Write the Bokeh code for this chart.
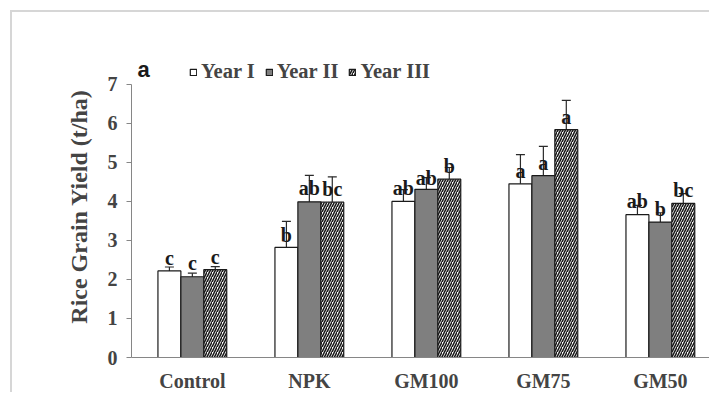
from bokeh.plotting import figure
from bokeh.models import (ColumnDataSource, Whisker, TeeHead, Legend, LegendItem,
                          FixedTicker, Label, Range1d)
from bokeh.core.properties import value
from bokeh.embed import file_html
from bokeh.resources import INLINE

# ---- data ----
categories = ["Control", "NPK", "GM100", "GM75", "GM50"]
series = ["Year I", "Year II", "Year III"]
year1 = [2.22, 2.82, 4.00, 4.45, 3.66]
year2 = [2.07, 3.99, 4.31, 4.66, 3.47]
year3 = [2.25, 3.98, 4.57, 5.84, 3.95]
err1 = [0.10, 0.67, 0.30, 0.75, 0.24]
err2 = [0.09, 0.68, 0.30, 0.75, 0.24]
err3 = [0.08, 0.65, 0.30, 0.75, 0.25]
letters1 = ["c", "b", "ab", "a", "ab"]
letters2 = ["c", "ab", "ab", "a", "b"]
letters3 = ["c", "bc", "b", "a", "bc"]
letter_y1 = [2.55, 3.14, 4.34, 4.79, 4.00]
letter_y2 = [2.43, 4.34, 4.60, 4.98, 3.80]
letter_y3 = [2.58, 4.32, 4.90, 6.17, 4.29]
y_ticks = [0, 1, 2, 3, 4, 5, 6, 7]

SERIF = "Liberation Serif"
p = figure(width=699, height=382, output_backend="svg", toolbar_location=None,
           x_range=Range1d(-0.02, 4.937), y_range=Range1d(0, 7.74),
           min_border_left=119, min_border_right=0, min_border_top=43,
           min_border_bottom=30)
p.styles = {"border-left": "2px solid #d6d6d6", "border-top": "2px solid #d6d6d6"}
p.margin = (10, 0, 0, 10)
p.outline_line_color = None
p.xgrid.visible = False
p.ygrid.visible = False
p.background_fill_color = "white"
p.border_fill_color = "white"

bw = 0.196
offsets = [-bw, 0.0, bw]
fills = ["white", "#7f7f7f", "white"]
hatches = [" ", " ", "/"]
vals = [year1, year2, year3]
errs = [err1, err2, err3]
lets = [letters1, letters2, letters3]
lys = [letter_y1, letter_y2, letter_y3]

renderers = []
for k in range(3):
    xs = [i + 0.5 + offsets[k] for i in range(len(categories))]
    src = ColumnDataSource(dict(x=xs, top=vals[k],
                                upper=[v + e for v, e in zip(vals[k], errs[k])],
                                lower=[v - e for v, e in zip(vals[k], errs[k])],
                                lab=lets[k], ly=lys[k]))
    r = p.vbar(x="x", top="top", width=bw, bottom=0, source=src,
               fill_color=fills[k], line_color="#1a1a1a", line_width=1.2,
               hatch_pattern=hatches[k], hatch_color="#1a1a1a",
               hatch_scale=5.0, hatch_weight=1.6)
    renderers.append(r)
    w = Whisker(base="x", upper="upper", lower="lower", source=src,
                line_color="#2a2a2a", line_width=1.2,
                upper_head=TeeHead(size=9, line_color="#2a2a2a", line_width=1.2),
                lower_head=TeeHead(size=9, line_color="#2a2a2a", line_width=1.2))
    p.add_layout(w)
    p.text(x="x", y="ly", text="lab", source=src, text_align="center",
           text_baseline="alphabetic", text_font=value(SERIF),
           text_font_style="bold", text_font_size="20px", text_color="#1a1a1a")

# axes
p.yaxis.ticker = FixedTicker(ticks=y_ticks)
p.yaxis.bounds = (0, 7)
p.yaxis.axis_label = "Rice Grain Yield (t/ha)"
p.yaxis.axis_label_text_font = SERIF
p.yaxis.axis_label_text_font_style = "bold"
p.yaxis.axis_label_text_font_size = "24px"
p.yaxis.axis_label_standoff = 13
p.yaxis.major_label_text_font = SERIF
p.yaxis.major_label_text_font_style = "bold"
p.yaxis.major_label_text_font_size = "20px"
p.yaxis.major_label_standoff = 9
p.yaxis.major_tick_out = 5
p.yaxis.major_tick_in = 0
p.yaxis.minor_tick_line_color = None
p.yaxis.axis_line_color = "#868686"
p.yaxis.major_tick_line_color = "#868686"

p.xaxis.ticker = FixedTicker(ticks=[i + 0.5 for i in range(len(categories))])
p.xaxis.major_label_overrides = {i + 0.5: c for i, c in enumerate(categories)}
p.xaxis.major_label_text_font = SERIF
p.xaxis.major_label_text_font_style = "bold"
p.xaxis.major_label_text_font_size = "20px"
p.xaxis.major_label_standoff = 6
p.xaxis.major_tick_line_color = None
p.xaxis.minor_tick_line_color = None
p.xaxis.axis_line_color = "#868686"

legend = Legend(items=[LegendItem(label=series[k], renderers=[renderers[k]]) for k in range(3)],
                orientation="horizontal", location=(58, 274),
                label_text_font=SERIF, label_text_font_style="bold",
                label_text_font_size="20.5px", glyph_width=8, glyph_height=8,
                label_standoff=4, spacing=10, padding=0, margin=0,
                border_line_color=None, background_fill_alpha=0)
p.add_layout(legend, "center")

p.add_layout(Label(x=6, y=276, x_units="screen", y_units="screen", text="a",
                   text_font="Liberation Sans", text_font_style="bold",
                   text_font_size="22px", text_color="#1a1a1a"))

open("out.html", "w").write(file_html(p, INLINE))
